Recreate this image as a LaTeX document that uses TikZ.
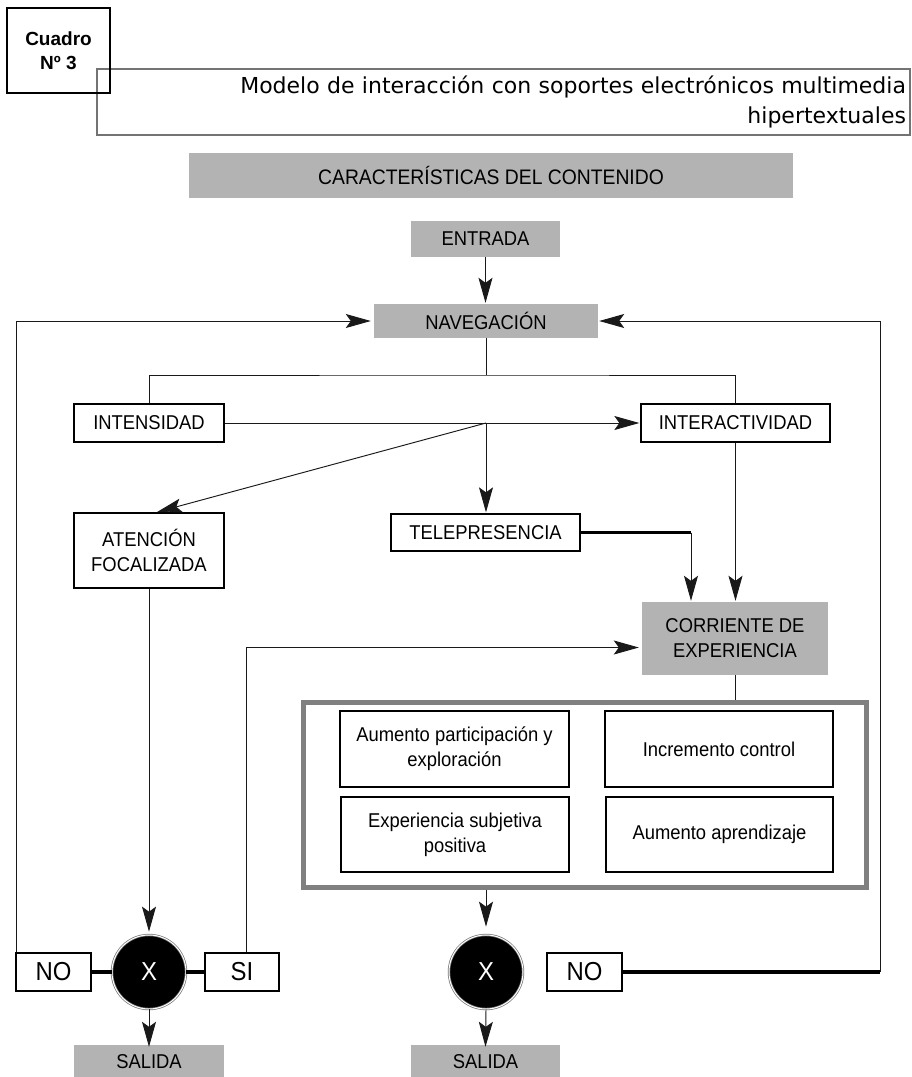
\documentclass[tikz,border=0pt]{standalone}
\usepackage{fontspec}
\setmainfont{Liberation Sans}[FakeStretch=0.92]
\newfontfamily\cuadrofont{Liberation Sans}
\newfontfamily\titlefont{DejaVu Sans}
\usetikzlibrary{arrows.meta}
\definecolor{boxgray}{RGB}{179,179,179}
\definecolor{titlegray}{RGB}{115,115,115}
\definecolor{framegray}{RGB}{128,128,128}
\begin{document}
\begin{tikzpicture}[x=1pt,y=-1pt,
  every node/.style={font=\fontsize{20}{25}\selectfont},
  box/.style={draw=black, line width=1.3pt, rectangle, inner sep=0pt, align=center},
  gbox/.style={fill=boxgray, rectangle, inner sep=0pt, align=center},
  ln/.style={line width=0.95pt, draw=black!90},
  arr/.style={ln, -{Stealth[length=25pt,width=14pt,inset=5pt]}, shorten >=1pt},
  heavy/.style={line width=3.5pt, draw=black},
  dec/.style={circle, fill=black, draw=black!55, line width=0.7pt, double=white, double distance=1pt,
              minimum size=74pt, inner sep=0pt, text=white, font=\fontsize{26}{30}\selectfont},
  ans/.style={box, font=\fontsize{26}{30}\selectfont}]
\useasboundingbox (0,0) rectangle (911,1077);

% header
\node[draw=titlegray, line width=1.5pt, rectangle, minimum height=66pt, inner xsep=4pt, inner ysep=0pt,
      text width=805pt, align=right, font=\titlefont\fontsize{22}{30}\selectfont] (title) at (503.5,102)
  {Modelo de interacción con soportes electrónicos multimedia\\hipertextuales};
\node[box, line width=2pt, minimum width=103pt, minimum height=85pt, font=\cuadrofont\bfseries\fontsize{19}{24}\selectfont] (cuadro) at (58.5,50.5) {Cuadro\\Nº 3};

\node[gbox, minimum width=604pt, minimum height=45pt, font=\fontsize{21}{25}\selectfont] (caract) at (491,175.5) {CARACTERÍSTICAS DEL CONTENIDO};
\node[gbox, minimum width=149pt, minimum height=36pt] (entrada) at (485.5,239) {ENTRADA};
\node[gbox, minimum width=224pt, minimum height=34pt] (nav) at (486,321) {NAVEGACIÓN};

\node[box, minimum width=150pt, minimum height=38pt] (intens) at (149,423) {INTENSIDAD};
\node[box, minimum width=189pt, minimum height=38pt] (interact) at (735.5,423) {INTERACTIVIDAD};
\node[box, minimum width=189pt, minimum height=37pt] (telep) at (485.5,532.5) {TELEPRESENCIA};
\node[box, minimum width=150pt, minimum height=75pt] (atenc) at (149,550.5) {ATENCIÓN\\FOCALIZADA};
\node[gbox, minimum width=186pt, minimum height=73pt] (corr) at (735,638.5) {CORRIENTE DE\\EXPERIENCIA};

\node[draw=framegray, line width=5pt, rectangle, minimum width=563pt, minimum height=185pt, inner sep=0pt] (frame) at (585,795) {};
\node[box, minimum width=229pt, minimum height=76pt] (aum1) at (454.5,749) {Aumento participación y\\exploración};
\node[box, minimum width=228pt, minimum height=76pt] (incr) at (719,749) {Incremento control};
\node[box, minimum width=228pt, minimum height=75pt] (exp) at (455,834.5) {Experiencia subjetiva\\positiva};
\node[box, minimum width=227pt, minimum height=75pt] (aum2) at (719.5,834.5) {Aumento aprendizaje};

\node[dec] (X1) at (149,972) {X};
\node[dec] (X2) at (486,972) {X};
\node[ans, minimum width=75pt, minimum height=38pt] (NO1) at (53.5,972) {NO};
\node[ans, minimum width=74pt, minimum height=38pt] (SI) at (242,972) {SI};
\node[ans, minimum width=75pt, minimum height=38pt] (NO2) at (584.5,972) {NO};

\node[gbox, minimum width=150pt, minimum height=34pt] (sal1) at (149,1062) {SALIDA};
\node[gbox, minimum width=149pt, minimum height=34pt] (sal2) at (485.5,1062) {SALIDA};

% connectors
\draw[arr] (entrada.south) -- (entrada.south |- nav.north);
\draw[arr, shorten >=3pt] ([xshift=1.5pt]NO1.north west) |- (nav.west);
\coordinate (rc) at (880,972);
\draw[heavy] (NO2.east) -- (rc);
\draw[arr] (rc) |- (nav.east);

\coordinate (bus) at (486,375);
\draw[ln] (nav.south) -- (bus);
\draw[ln] (intens.north) |- (bus) -| (interact.north);

\coordinate (hub) at (486,423);
\draw[arr] (intens.east) -- (interact.west);
\draw[arr] (hub) -- (hub |- telep.north);
\draw[arr] (hub) -- ([xshift=7pt]atenc.north);

\coordinate (tp) at (691,532.5);
\draw[heavy] (telep.east) -- (tp);
\draw[arr] (tp) -- (tp |- corr.north);
\draw[arr] (interact.south) -- (interact.south |- corr.north);

\draw[arr, shorten >=3pt] (atenc.south) -- (X1.north);
\draw[arr, shorten >=3pt] ([xshift=4pt]SI.north) |- ([yshift=-9pt]corr.west);
\draw[ln] (corr.south) -- (corr.south |- frame.north);
\draw[arr, shorten >=8pt] (X2.north |- frame.south) -- (X2.north);

\draw[heavy] (NO1.east) -- (X1.west);
\draw[heavy] (X1.east) -- (SI.west);
\draw[arr, shorten >=-2pt] (X1.south) -- (sal1.north);
\draw[arr, shorten >=-2pt] (X2.south) -- (sal2.north);
\end{tikzpicture}
\end{document}
